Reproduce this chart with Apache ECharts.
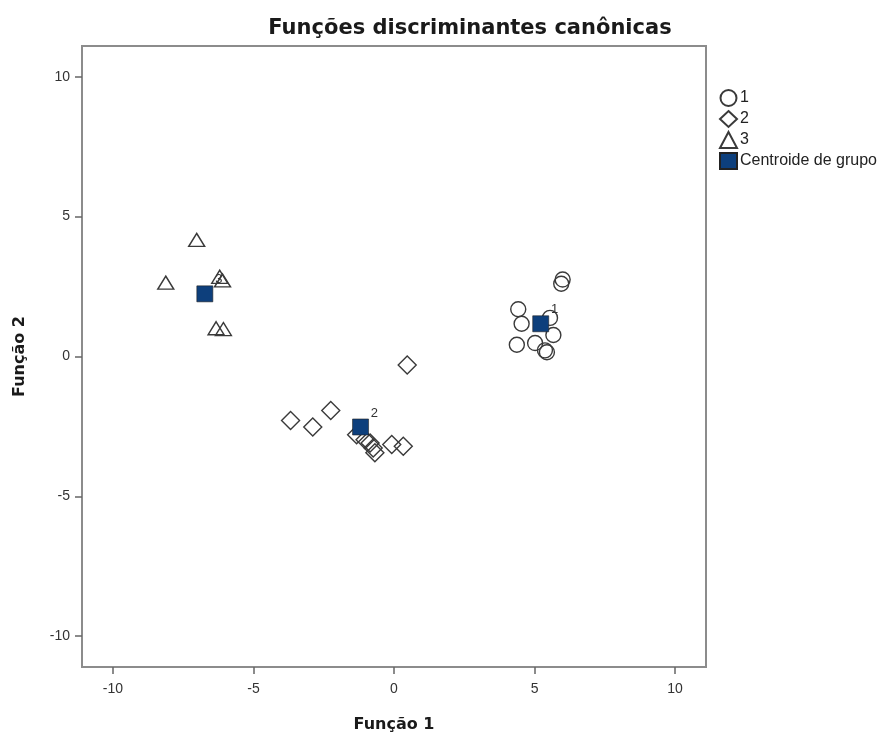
<!DOCTYPE html>
<html><head><meta charset="utf-8">
<script src="https://cdn.jsdelivr.net/npm/echarts@6/dist/echarts.min.js"></script>
<style>html,body{margin:0;padding:0;background:#fff}#c{width:885px;height:738px}</style>
</head><body><div id="c"></div>
<script>
const tickValues = [-10, -5, 0, 5, 10];
const group1X = [6.0, 5.95, 4.42, 4.54, 5.55, 5.67, 4.37, 5.02, 5.37, 5.44];
const group1Y = [2.75, 2.6, 1.69, 1.17, 1.38, 0.77, 0.42, 0.48, 0.22, 0.15];
const group2X = [0.47, -3.68, -2.89, -2.25, -1.33, -1.03, -0.85, -0.74, -0.68, -0.08, 0.33];
const group2Y = [-0.30, -2.29, -2.52, -1.93, -2.8, -2.98, -3.09, -3.27, -3.44, -3.15, -3.21];
const group3X = [-7.02, -8.12, -6.2, -6.1, -6.33, -6.07];
const group3Y = [4.17, 2.64, 2.85, 2.72, 1.01, 0.98];
const centroidNames = ['1', '2', '3'];
const centroidX = [5.22, -1.19, -6.73];
const centroidY = [1.17, -2.52, 2.24];

const zip = (xs, ys) => xs.map((x, i) => [x, ys[i]]);
const ptStyle = { color: 'rgba(255,255,255,0)', borderColor: '#3a3a3a', borderWidth: 1.4, opacity: 1 };
const FONT = 'Liberation Sans, Arial, sans-serif';
const BFONT = 'DejaVu Sans, sans-serif';

const chart = echarts.init(document.getElementById('c'), null, { renderer: 'canvas' });
chart.setOption({
  animation: false,
  backgroundColor: '#fff',
  title: {
    text: 'Funções discriminantes canônicas',
    left: 465, top: 13, textAlign: 'center',
    textStyle: { fontFamily: BFONT, fontSize: 21, fontWeight: 'bold', color: '#1a1a1a' }
  },
  grid: { left: 82, right: 179, top: 46, bottom: 66, show: true, borderColor: '#8c8c8c', borderWidth: 2, backgroundColor: '#fff' },
  legend: {
    orient: 'vertical', left: 714, top: 84, itemGap: 3, itemWidth: 17, itemHeight: 16,
    textStyle: { fontFamily: FONT, fontSize: 16, color: '#222', padding: [0, 0, 0, -2] },
    data: ['1', '2', '3', 'Centroide de grupo']
  },
  xAxis: {
    type: 'value', min: -11.1, max: 11.1,
    name: 'Função 1', nameLocation: 'middle', nameGap: 50,
    nameTextStyle: { fontFamily: BFONT, fontSize: 16, fontWeight: 'bold', color: '#1a1a1a' },
    axisLine: { show: false, onZero: false },
    splitLine: { show: false },
    axisTick: { show: true, length: 7, customValues: tickValues, lineStyle: { color: '#666', width: 1.5 } },
    axisLabel: { customValues: tickValues, fontFamily: FONT, fontSize: 14, color: '#333', margin: 15 }
  },
  yAxis: {
    type: 'value', min: -11.1, max: 11.1,
    name: 'Função 2', nameLocation: 'middle', nameGap: 54, nameRotate: 90,
    nameTextStyle: { fontFamily: BFONT, fontSize: 16, fontWeight: 'bold', color: '#1a1a1a' },
    axisLine: { show: false, onZero: false },
    splitLine: { show: false },
    axisTick: { show: true, length: 7, customValues: tickValues, lineStyle: { color: '#666', width: 1.5 } },
    axisLabel: { customValues: tickValues, fontFamily: FONT, fontSize: 14, color: '#333', margin: 12 }
  },
  series: [
    { name: '1', type: 'scatter', symbol: 'circle', symbolSize: 15, itemStyle: ptStyle, data: zip(group1X, group1Y), z: 2 },
    { name: '2', type: 'scatter', symbol: 'diamond', symbolSize: 18, itemStyle: ptStyle, data: zip(group2X, group2Y), z: 2 },
    { name: '3', type: 'scatter', symbol: 'triangle', symbolSize: [16, 13], itemStyle: ptStyle, data: zip(group3X, group3Y), z: 2 },
    {
      name: 'Centroide de grupo', type: 'scatter', symbol: 'rect', symbolSize: 16, z: 5,
      itemStyle: { color: '#0d3f7c', borderColor: '#222', borderWidth: 0.6, opacity: 1 },
      label: {
        show: true, position: 'right', offset: [-3, -14],
        formatter: p => p.data[2],
        fontFamily: FONT, fontSize: 13, color: '#333'
      },
      data: centroidX.map((x, i) => [x, centroidY[i], centroidNames[i]])
    }
  ]
});
</script>
</body></html>
